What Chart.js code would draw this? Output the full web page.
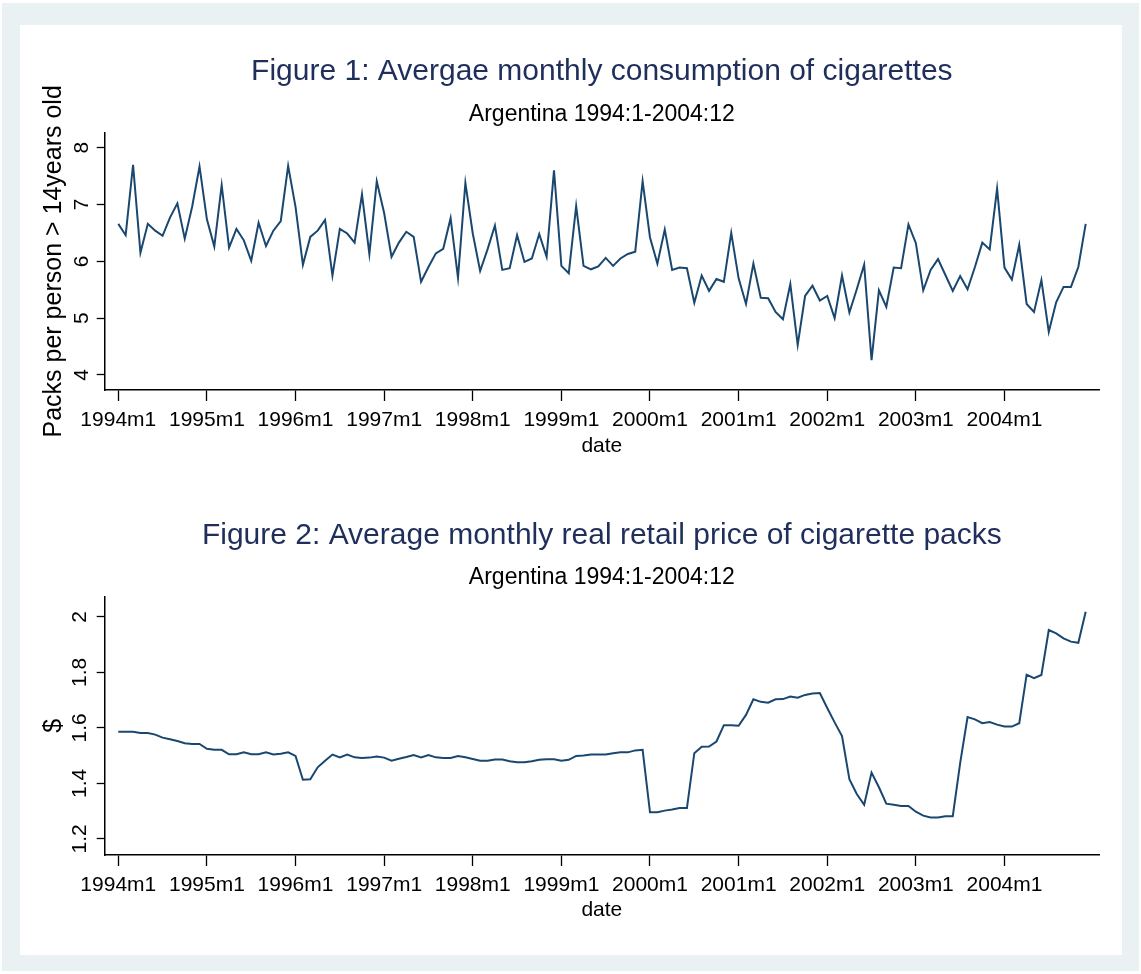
<!doctype html>
<html lang="en">
<head>
<meta charset="utf-8">
<title>Cigarettes - Argentina 1994-2004</title>
<script src="https://cdn.jsdelivr.net/npm/chart.js@4.4.0/dist/chart.umd.min.js"></script>
<style>
  body { margin: 0; background: #fff; }
  #frame { position: absolute; left: 2px; top: 3px; width: 1137px; height: 968px; background: #e9f1f3; }
  #panel { position: absolute; left: 20px; top: 25px; width: 1102px; height: 930px; background: #fff; }
  #c1 { position: absolute; left: 20px; top: 25px; }
  #c2 { position: absolute; left: 20px; top: 480px; }
</style>
</head>
<body>
<div id="frame"></div>
<div id="panel"></div>
<canvas id="c1" width="1102" height="455"></canvas>
<canvas id="c2" width="1102" height="475"></canvas>

<script>
// monthly series, 1994m1 .. 2004m12 (132 months)
var dateTicks = ['1994m1', '1995m1', '1996m1', '1997m1', '1998m1', '1999m1',
                 '2000m1', '2001m1', '2002m1', '2003m1', '2004m1'];

var consumption = [
  6.66, 6.46, 7.70, 6.15, 6.66, 6.54, 6.45, 6.77, 7.02, 6.40, 6.96, 7.67,
  6.74, 6.26, 7.34, 6.24, 6.57, 6.37, 6.01, 6.68, 6.27, 6.54, 6.71, 7.68,
  6.96, 5.94, 6.43, 6.54, 6.73, 5.75, 6.57, 6.49, 6.33, 7.18, 6.13, 7.41,
  6.85, 6.08, 6.33, 6.52, 6.43, 5.64, 5.90, 6.14, 6.22, 6.76, 5.71, 7.38,
  6.49, 5.83, 6.21, 6.63, 5.85, 5.88, 6.46, 5.99, 6.05, 6.48, 6.08, 7.60,
  5.92, 5.79, 6.97, 5.92, 5.86, 5.91, 6.06, 5.92, 6.05, 6.13, 6.17, 7.41,
  6.42, 5.96, 6.56, 5.85, 5.89, 5.88, 5.27, 5.75, 5.48, 5.69, 5.64, 6.50,
  5.70, 5.25, 5.96, 5.36, 5.35, 5.11, 4.98, 5.60, 4.53, 5.39, 5.57, 5.31,
  5.39, 5.00, 5.75, 5.10, 5.51, 5.94, 4.26, 5.49, 5.20, 5.89, 5.88, 6.65,
  6.32, 5.49, 5.85, 6.04, 5.76, 5.48, 5.74, 5.51, 5.90, 6.33, 6.21, 7.28,
  5.89, 5.68, 6.29, 5.25, 5.11, 5.67, 4.76, 5.28, 5.55, 5.55, 5.90, 6.66
];

var price = [
  1.586, 1.586, 1.586, 1.582, 1.582, 1.576, 1.565, 1.559, 1.553, 1.545, 1.542, 1.542,
  1.525, 1.521, 1.521, 1.505, 1.505, 1.512, 1.505, 1.505, 1.512, 1.504, 1.507, 1.512,
  1.499, 1.413, 1.415, 1.458, 1.482, 1.504, 1.494, 1.504, 1.494, 1.492, 1.493, 1.497,
  1.493, 1.482, 1.489, 1.495, 1.502, 1.494, 1.502, 1.494, 1.492, 1.492, 1.499, 1.494,
  1.488, 1.482, 1.482, 1.486, 1.486, 1.480, 1.476, 1.476, 1.480, 1.485, 1.487, 1.487,
  1.482, 1.485, 1.499, 1.501, 1.504, 1.504, 1.504, 1.509, 1.512, 1.512, 1.519, 1.521,
  1.296, 1.296, 1.302, 1.306, 1.311, 1.311, 1.509, 1.532, 1.533, 1.551, 1.610, 1.610,
  1.608, 1.647, 1.703, 1.694, 1.691, 1.703, 1.704, 1.713, 1.709, 1.719, 1.724, 1.726,
  1.672, 1.620, 1.571, 1.415, 1.362, 1.323, 1.439, 1.386, 1.327, 1.323, 1.319, 1.319,
  1.298, 1.284, 1.277, 1.277, 1.282, 1.282, 1.473, 1.639, 1.631, 1.617, 1.621, 1.612,
  1.605, 1.605, 1.617, 1.792, 1.779, 1.791, 1.953, 1.941, 1.923, 1.911, 1.907, 2.019
];

var consTicks = [4, 5, 6, 7, 8];
var priceTicks = [1.2, 1.4, 1.6, 1.8, 2];

Chart.defaults.font.family = "'Liberation Sans', Arial, sans-serif";
Chart.defaults.color = '#000';

function points(values) {
  return values.map(function (v, i) { return { x: i, y: v }; });
}

function drawChart(id, cfg) {
  return new Chart(document.getElementById(id), {
    type: 'line',
    data: {
      datasets: [{
        data: points(cfg.values),
        borderColor: '#1a476f',
        borderWidth: 2,
        pointRadius: 0,
        tension: 0,
        fill: false
      }]
    },
    options: {
      responsive: false,
      animation: false,
      events: [],
      layout: { padding: { left: 0, right: 23, top: 0, bottom: 0 } },
      plugins: {
        legend: { display: false },
        tooltip: { enabled: false },
        title: {
          display: true, fullSize: false, text: cfg.title, color: '#1f2e5a',
          font: { size: 30, weight: 'normal', lineHeight: 1.2 },
          padding: { top: cfg.titleTop, bottom: 0 }
        },
        subtitle: {
          display: true, fullSize: false, text: 'Argentina 1994:1-2004:12', color: '#000',
          font: { size: 23, lineHeight: 1.2 },
          padding: { top: cfg.subTop, bottom: cfg.subBottom }
        }
      },
      scales: {
        x: {
          type: 'linear', min: -1.84, max: 132.8,
          afterFit: function (s) { s.height = cfg.xHeight; },
          afterBuildTicks: function (s) {
            s.ticks = dateTicks.map(function (l, k) { return { value: k * 12 }; });
          },
          ticks: {
            callback: function (v, k) { return dateTicks[k]; },
            font: { size: 21 }, padding: 7, maxRotation: 0, autoSkip: false
          },
          grid: { drawOnChartArea: false, tickLength: 11, tickColor: '#000', tickWidth: 1.3 },
          border: { color: '#000', width: 1.5 },
          title: { display: true, text: 'date', font: { size: 21 }, padding: { top: 0, bottom: cfg.dateBottom } }
        },
        y: {
          min: cfg.min, max: cfg.max,
          afterFit: function (s) { s.width = 84.7; },
          afterBuildTicks: function (s) {
            s.ticks = cfg.ticks.map(function (v) { return { value: v }; });
          },
          ticks: {
            callback: function (v) { return String(+v.toFixed(1)); },
            minRotation: 90, maxRotation: 90, crossAlign: 'center',
            padding: cfg.yPad, font: { size: 21 }
          },
          grid: { drawOnChartArea: false, tickLength: 8, tickColor: '#000', tickWidth: 1.3 },
          border: { color: '#000', width: 1.5 },
          title: { display: true, text: cfg.yTitle, font: { size: 25 }, padding: { top: 19, bottom: 0 } }
        }
      }
    }
  });
}

drawChart('c1', {
  values: consumption,
  title: 'Figure 1: Avergae monthly consumption of cigarettes',
  yTitle: 'Packs per person > 14years old',
  ticks: consTicks, min: 3.736, max: 8.264,
  titleTop: 28.75, subTop: 10.95, subBottom: 4.4,
  xHeight: 90, dateBottom: 21.4, yPad: 9
});

drawChart('c2', {
  values: price,
  title: 'Figure 2: Average monthly real retail price of cigarette packs',
  yTitle: '$',
  ticks: priceTicks, min: 1.142, max: 2.073,
  titleTop: 37.5, subTop: 10.7, subBottom: 4.9,
  xHeight: 100, dateBottom: 32.4, yPad: 2
});
</script>
</body>
</html>
